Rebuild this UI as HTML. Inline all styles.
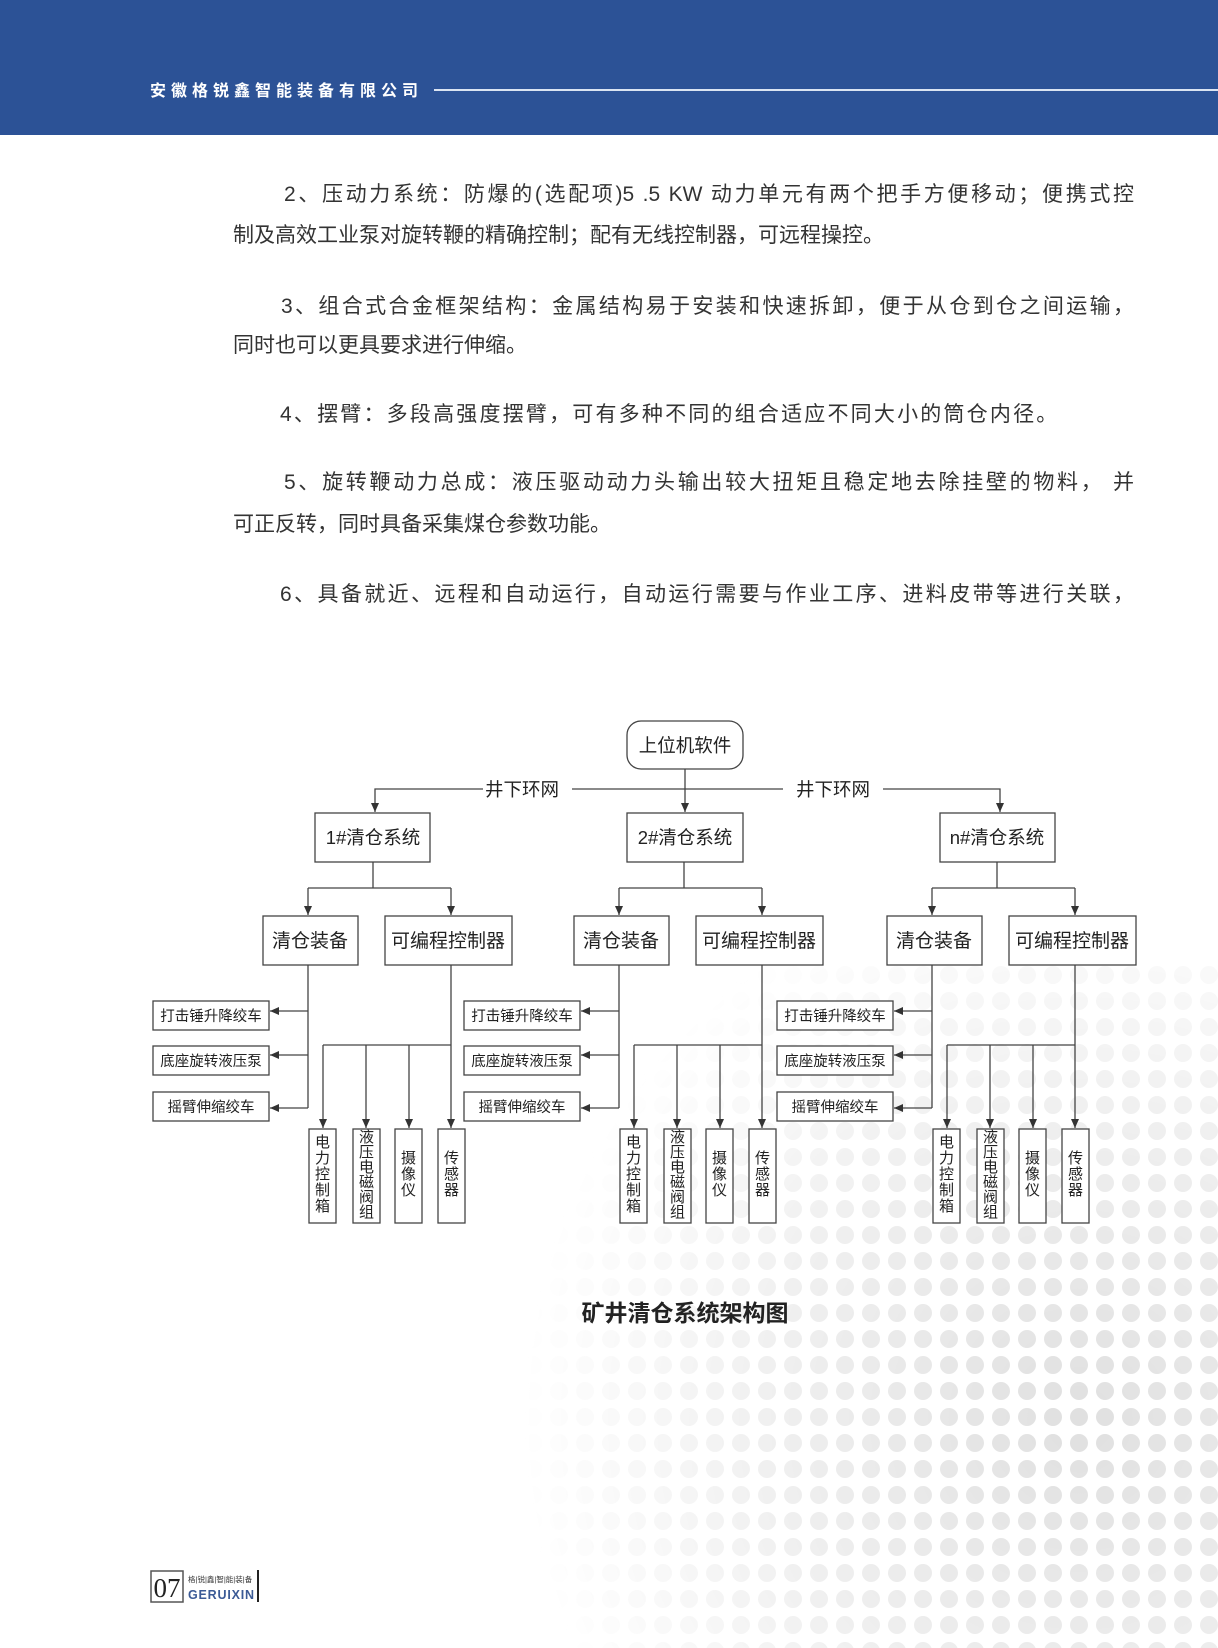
<!DOCTYPE html>
<html><head><meta charset="utf-8"><style>
body{margin:0;background:#fff}
#p{position:relative;width:1218px;height:1648px;overflow:hidden;background:#fff;font-family:"Liberation Sans","Noto Sans CJK SC",sans-serif}
.hd{position:absolute;left:0;top:0;width:1218px;height:135px;background:#2c5296}
.ln{position:absolute;left:233px;width:901px;font-size:21px;line-height:30px;color:#333;white-space:nowrap}
.j{text-align:justify;text-align-last:justify}
</style></head><body><div id="p">
<div class="hd"></div>
<div style="position:absolute;left:150px;top:77px;color:#fff;font-size:16px;font-weight:bold;letter-spacing:5px;font-family:'Noto Sans CJK SC',sans-serif">安徽格锐鑫智能装备有限公司</div>
<div style="position:absolute;left:434px;top:89px;width:784px;height:2px;background:#dbe4f2"></div>

<div class="ln j" style="top:180px;left:284px;width:850px">2、压动力系统：防爆的(选配项)5 .5 KW 动力单元有两个把手方便移动；便携式控</div>
<div class="ln" style="top:221px">制及高效工业泵对旋转鞭的精确控制；配有无线控制器，可远程操控。</div>
<div class="ln j" style="top:292px;left:281px;width:853px">3、组合式合金框架结构：金属结构易于安装和快速拆卸，便于从仓到仓之间运输，</div>
<div class="ln" style="top:331px">同时也可以更具要求进行伸缩。</div>
<div class="ln" style="top:400px;left:280px;letter-spacing:2.2px">4、摆臂：多段高强度摆臂，可有多种不同的组合适应不同大小的筒仓内径。</div>
<div class="ln j" style="top:468px;left:284px;width:850px">5、旋转鞭动力总成：液压驱动动力头输出较大扭矩且稳定地去除挂壁的物料， 并</div>
<div class="ln" style="top:510px">可正反转，同时具备采集煤仓参数功能。</div>
<div class="ln j" style="top:580px;left:280px;width:854px">6、具备就近、远程和自动运行，自动运行需要与作业工序、进料皮带等进行关联，</div>

<svg width="1218" height="1648" style="position:absolute;left:0;top:0" font-family="Liberation Sans,Noto Sans CJK SC,sans-serif">
<defs>
<pattern id="dots" width="26" height="26" patternUnits="userSpaceOnUse"><circle cx="13" cy="13" r="9" fill="#d8d8d8"/></pattern>
<radialGradient id="rg" cx="1080" cy="1420" r="560" gradientUnits="userSpaceOnUse"><stop offset="0" stop-color="#fff" stop-opacity=".8"/><stop offset=".55" stop-color="#fff" stop-opacity=".4"/><stop offset="1" stop-color="#fff" stop-opacity="0"/></radialGradient>
<mask id="mk"><rect width="1218" height="1648" fill="url(#rg)"/></mask>
<marker id="a" markerWidth="10" markerHeight="10" refX="9" refY="5" orient="auto" markerUnits="userSpaceOnUse"><path d="M0,1 L9,5 L0,9 z" fill="#333"/></marker>
<g id="grp">
<g stroke="#444" stroke-width="1.3" fill="none">
<path d="M373 862 V888"/><path d="M308 888 H451"/>
<path d="M308 888 V915" marker-end="url(#a)"/><path d="M451 888 V915" marker-end="url(#a)"/>
<rect x="263" y="916" width="95" height="49" fill="#fff"/><rect x="385" y="916" width="127" height="49" fill="#fff"/>
<path d="M308 965 V1108"/>
<path d="M308 1011 H270" marker-end="url(#a)"/><path d="M308 1055 H270" marker-end="url(#a)"/><path d="M308 1108 H270" marker-end="url(#a)"/>
<rect x="153" y="1001" width="116" height="29" fill="#fff"/><rect x="153" y="1046" width="116" height="29" fill="#fff"/><rect x="153" y="1092" width="116" height="29" fill="#fff"/>
<path d="M451 965 V1128" marker-end="url(#a)"/><path d="M323 1045 H451"/>
<path d="M323 1045 V1128" marker-end="url(#a)"/><path d="M366 1045 V1128" marker-end="url(#a)"/><path d="M409 1045 V1128" marker-end="url(#a)"/>
<rect x="309" y="1129" width="27" height="94" fill="#fff"/><rect x="353" y="1129" width="27" height="94" fill="#fff"/><rect x="395" y="1129" width="27" height="94" fill="#fff"/><rect x="438" y="1129" width="27" height="94" fill="#fff"/>
</g>
<g fill="#222" text-anchor="middle">
<text x="310" y="947" font-size="19">清仓装备</text>
<text x="448" y="947" font-size="19">可编程控制器</text>
<text x="211" y="1021" font-size="14.5">打击锤升降绞车</text>
<text x="211" y="1066" font-size="14.5">底座旋转液压泵</text>
<text x="211" y="1112" font-size="14.5">摇臂伸缩绞车</text>
<g font-size="15">
<text x="322.5" y="1147">电</text><text x="322.5" y="1163">力</text><text x="322.5" y="1179">控</text><text x="322.5" y="1195">制</text><text x="322.5" y="1211">箱</text>
<text x="366.5" y="1142">液</text><text x="366.5" y="1157">压</text><text x="366.5" y="1172">电</text><text x="366.5" y="1187">磁</text><text x="366.5" y="1202">阀</text><text x="366.5" y="1217">组</text>
<text x="408.5" y="1163">摄</text><text x="408.5" y="1179">像</text><text x="408.5" y="1195">仪</text>
<text x="451.5" y="1163">传</text><text x="451.5" y="1179">感</text><text x="451.5" y="1195">器</text>
</g></g>
</g>
</defs>
<rect x="400" y="960" width="818" height="688" fill="url(#dots)" mask="url(#mk)"/>
<g stroke="#444" stroke-width="1.3" fill="none">
<rect x="627" y="721" width="116" height="48" rx="14" fill="#fff"/>
<path d="M685 769 V812" marker-end="url(#a)"/>
<path d="M483 789 H375 V812" marker-end="url(#a)"/>
<path d="M572 789 H783"/>
<path d="M883 789 H1000 V812" marker-end="url(#a)"/>
<rect x="315" y="813" width="115" height="49" fill="#fff"/>
<rect x="627" y="813" width="116" height="49" fill="#fff"/>
<rect x="940" y="813" width="115" height="49" fill="#fff"/>
</g>
<g font-size="18.5" fill="#222" text-anchor="middle">
<text x="685" y="752">上位机软件</text>
<text x="522" y="796">井下环网</text>
<text x="833" y="796">井下环网</text>
<text x="373" y="844">1#清仓系统</text>
<text x="685" y="844">2#清仓系统</text>
<text x="997" y="844">n#清仓系统</text>
</g>
<use href="#grp"/>
<use href="#grp" x="311"/>
<use href="#grp" x="624"/>

<text x="685" y="1321" font-size="23" font-weight="bold" fill="#222" text-anchor="middle">矿井清仓系统架构图</text>

<rect x="151" y="1571" width="32" height="31" fill="none" stroke="#555" stroke-width="1.5"/>
<text x="167" y="1597" font-size="27" font-family="Liberation Serif,serif" fill="#222" text-anchor="middle">07</text>
<text x="188" y="1582" font-size="7.5" fill="#333">格|锐|鑫|智|能|装|备</text>
<text x="188" y="1599" font-size="12.5" font-weight="bold" fill="#3b5a96" letter-spacing="0.8">GERUIXIN</text>
<rect x="257" y="1570" width="2" height="32" fill="#222"/>
</svg>
</div></body></html>
